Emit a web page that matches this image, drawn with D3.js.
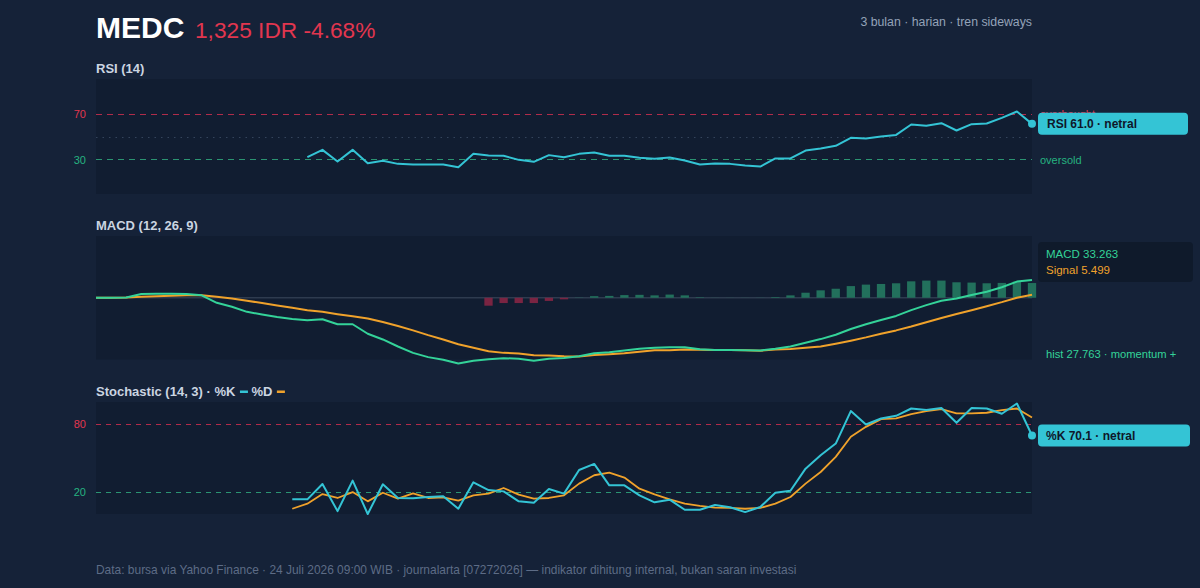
<!DOCTYPE html>
<html>
<head>
<meta charset="utf-8">
<script src="https://cdn.jsdelivr.net/npm/d3@7"></script>
<style>
  html, body { margin: 0; padding: 0; background: #152238; }
  svg { display: block; font-family: "Liberation Sans", Arial, Helvetica, sans-serif; }
</style>
</head>
<body>
<div id="chart"></div>
<script>
// ---- data (63 trading days, index based) ----
const ticker = 'MEDC';
const priceLabel = '1,325 IDR -4.68%';
const subtitle = '3 bulan · harian · tren sideways';
const footer = 'Data: bursa via Yahoo Finance · 24 Juli 2026 09:00 WIB · journalarta [07272026] — indikator dihitung internal, bukan saran investasi';

const rsi = [null, null, null, null, null, null, null, null, null, null, null, null, null, null,
  32.0, 38.4, 28.3, 38.4, 26.8, 28.9, 26.2, 25.7, 25.7, 25.7, 23.3, 34.9, 33.5, 33.2, 29.7, 28.0,
  33.8, 32.0, 34.9, 36.1, 33.2, 33.2, 31.5, 30.6, 31.8, 29.1, 25.7, 26.5, 26.2, 24.8, 23.9, 30.9,
  30.9, 37.8, 39.6, 41.9, 48.9, 48.3, 50.0, 51.4, 60.4, 59.3, 61.6, 55.2, 60.7, 61.3, 66.2, 71.7, 61.0];

const macd = [0, 0, 0.5, 7, 7.5, 7.5, 7, 4.5, -9.5, -17, -26.6, -31.7, -36.2, -40, -42.5, -40.6,
  -50, -50, -67.9, -78.7, -92, -104, -112, -117, -124, -118.7, -116, -114, -115, -118.7, -115,
  -113.5, -110.5, -104.8, -102.9, -99.6, -96.4, -94.5, -93.2, -93.2, -97, -98.4, -98.4, -99, -99.6,
  -96.4, -92, -85, -78, -69.8, -59, -50, -41.9, -34.3, -23.4, -13.9, -5.7, -1.3, 5.1, 11.4, 19.7,
  30.5, 33.263];

const signal = [0, 0, 0.5, 2, 3, 3.6, 4.5, 4.5, 2, -1.3, -5.7, -10, -14.5, -19, -23.4, -26.6,
  -31, -34.9, -39, -45.7, -53.3, -61.5, -70.5, -78.7, -87.6, -94.5, -101, -104, -105, -108.7, -109,
  -110.5, -111, -107.8, -106.4, -104.6, -101.9, -99, -99.2, -97.7, -98, -98.6, -98.6, -99.2, -99.9,
  -97.7, -96.5, -94.5, -92, -86.8, -81, -74.8, -67.9, -61.6, -54.4, -46.3, -38.1, -30.5, -23.5,
  -15.9, -8.3, 0, 5.499];

const hist = [null, null, null, null, null, null, null, null, null, null, null, null, null, null,
  null, null, null, null, null, null, null, null, null, null, null, null,
  -15, -10, -10, -10, -6, -3, 0.5, 3, 3.5, 5, 5.5, 4.5, 6, 4.5, 1, 0.2, 0.2, 0.2, 0.3, 1.3, 4.5,
  9.5, 14, 17, 22, 24.8, 26, 27.3, 31, 32.4, 32.4, 29.2, 28.6, 27.3, 28, 30.5, 27.763];

const stochK = [null, null, null, null, null, null, null, null, null, null, null, null, null,
  13.1, 13.1, 26.8, 2.6, 29.8, 0, 26.5, 14.3, 14, 15.2, 15.8, 4.7, 28.3, 21.4, 20.2, 11.3, 10.1,
  22.3, 18.2, 39.3, 44.7, 25.6, 25.6, 16.7, 10.4, 12.8, 3.8, 3.8, 8, 6, 1.7, 6.2, 19, 20.8, 40.5,
  52.5, 62.9, 91.9, 79.9, 85.3, 87.7, 94.2, 92.8, 94.6, 81.4, 94.6, 94.2, 89.5, 98.7, 70.1];

const stochD = [null, null, null, null, null, null, null, null, null, null, null, null, null,
  4.7, 9.2, 17.8, 14.3, 19.6, 11.3, 19, 13.7, 18.5, 14.3, 14.9, 11.9, 16.7, 18.2, 23.2, 17.3, 13.7,
  14.3, 16.7, 27.1, 34.6, 37, 32.5, 22.6, 17.5, 13.1, 9.2, 7.2, 5.7, 5.4, 4.7, 5.4, 9.2, 15.2, 27.1,
  37.5, 51, 68.9, 77.8, 84.7, 85.3, 89.2, 91.9, 93.7, 89.8, 89.8, 90.4, 92.8, 94.2, 86.2];

const rsiBands = [70, 30];
const stochBands = [80, 20];

// ---- layout ----
const width = 1200, height = 588;
const left = 96, right = 1032;
const colors = {
  cyan: '#34c4d5', green: '#34d399', orange: '#f0a22b', red: '#e2364f',
  redLine: '#b02c4a', greenLine: '#2b9472', panel: '#111d31', title: '#cbd5e1', muted: '#94a3b8'
};

const svg = d3.select('#chart').append('svg')
  .attr('width', width)
  .attr('height', height);

svg.append('rect').attr('width', width).attr('height', height).attr('fill', '#152238');

const x = d3.scaleLinear().domain([0, macd.length - 1]).range([left, right]);
const step = x(1) - x(0);

// header
svg.append('text').attr('x', 96).attr('y', 38)
  .attr('font-size', 30).attr('font-weight', 'bold').attr('fill', '#ffffff').text(ticker);
svg.append('text').attr('x', 195).attr('y', 38)
  .attr('font-size', 22.7).attr('fill', colors.red).text(priceLabel);
svg.append('text').attr('x', right).attr('y', 26).attr('text-anchor', 'end')
  .attr('font-size', 12.3).attr('fill', colors.muted).text(subtitle);

const panelTitle = (txt, top) =>
  svg.append('text').attr('x', 96).attr('y', top - 6.5)
    .attr('font-size', 13).attr('font-weight', 'bold').attr('fill', colors.title).text(txt);

const panelBg = (top, h) =>
  svg.append('rect').attr('x', left).attr('y', top).attr('width', right - left).attr('height', h)
    .attr('fill', colors.panel);

const pathFrom = (arr, y) => d3.line()
  .defined(d => d != null)
  .x((d, i) => x(i))
  .y(d => y(d))(arr);

// dashed band line on a crisp pixel row
const bandLine = (yv, color, dash) =>
  svg.append('line').attr('x1', left).attr('x2', right)
    .attr('y1', Math.round(yv) + 0.5).attr('y2', Math.round(yv) + 0.5)
    .attr('stroke', color).attr('stroke-width', 1).attr('stroke-dasharray', dash);

// ---- RSI ----
const rsiTop = 79, rsiH = 115;
const yRsi = d3.scaleLinear().domain([0, 100]).range([rsiTop + rsiH, rsiTop]);
panelTitle('RSI (14)', rsiTop);
panelBg(rsiTop, rsiH);

bandLine(yRsi(50), '#34445c', '1.5,5');

rsiBands.forEach((v, k) => {
  bandLine(yRsi(v), k === 0 ? colors.redLine : colors.greenLine, '6,5');
  svg.append('text').attr('x', 86).attr('y', yRsi(v) + 4).attr('text-anchor', 'end')
    .attr('font-size', 11).attr('fill', k === 0 ? colors.red : '#25b380').text(v);
});
svg.append('text').attr('x', 1040).attr('y', yRsi(70) + 4).attr('font-size', 11)
  .attr('fill', colors.red).text('overbought');
svg.append('text').attr('x', 1040).attr('y', yRsi(30) + 4).attr('font-size', 11)
  .attr('fill', '#25b380').text('oversold');

svg.append('path').attr('d', pathFrom(rsi, yRsi)).attr('fill', 'none')
  .attr('stroke', colors.cyan).attr('stroke-width', 2).attr('stroke-linejoin', 'round');

const rsiLast = rsi[rsi.length - 1];
svg.append('circle').attr('cx', x(rsi.length - 1)).attr('cy', yRsi(rsiLast)).attr('r', 4)
  .attr('fill', colors.cyan);
svg.append('rect').attr('x', 1038).attr('y', yRsi(rsiLast) - 11).attr('width', 150).attr('height', 22)
  .attr('rx', 4).attr('fill', colors.cyan);
svg.append('text').attr('x', 1047).attr('y', yRsi(rsiLast) + 4.5).attr('font-size', 12)
  .attr('font-weight', 'bold').attr('fill', '#0f172a').text(`RSI ${rsiLast.toFixed(1)} · netral`);

// ---- MACD ----
const macdTop = 236, macdH = 123.5;
const macdMax = 116.5;
const yMacd = d3.scaleLinear().domain([-macdMax, macdMax]).range([macdTop + macdH, macdTop]);
panelTitle('MACD (12, 26, 9)', macdTop);
panelBg(macdTop, macdH);

svg.append('line').attr('x1', left).attr('x2', right).attr('y1', yMacd(0)).attr('y2', yMacd(0))
  .attr('stroke', '#2e3b4f').attr('stroke-width', 1.5);

const barW = step * 0.55;
svg.append('g').selectAll('rect')
  .data(hist.map((v, i) => ({ v, i })).filter(d => d.v != null))
  .join('rect')
  .attr('x', d => x(d.i) - barW / 2)
  .attr('y', d => Math.min(yMacd(d.v), yMacd(0)))
  .attr('width', barW)
  .attr('height', d => Math.abs(yMacd(d.v) - yMacd(0)))
  .attr('fill', d => d.v >= 0 ? '#22705c' : '#7a2442');

svg.append('path').attr('d', pathFrom(signal, yMacd)).attr('fill', 'none')
  .attr('stroke', colors.orange).attr('stroke-width', 2).attr('stroke-linejoin', 'round');
svg.append('path').attr('d', pathFrom(macd, yMacd)).attr('fill', 'none')
  .attr('stroke', colors.green).attr('stroke-width', 2).attr('stroke-linejoin', 'round');

svg.append('rect').attr('x', 1038).attr('y', 242).attr('width', 155).attr('height', 40)
  .attr('rx', 4).attr('fill', '#0f1a2b');
svg.append('text').attr('x', 1046).attr('y', 258).attr('font-size', 11.5).attr('fill', colors.green)
  .text(`MACD ${macd[macd.length - 1].toFixed(3)}`);
svg.append('text').attr('x', 1046).attr('y', 274).attr('font-size', 11.5).attr('fill', colors.orange)
  .text(`Signal ${signal[signal.length - 1].toFixed(3)}`);
svg.append('text').attr('x', 1046).attr('y', 358).attr('font-size', 11.2).attr('fill', colors.green)
  .text(`hist ${hist[hist.length - 1].toFixed(3)} · momentum +`);

// ---- Stochastic ----
const stTop = 402, stH = 112;
const ySt = d3.scaleLinear().domain([0, 100]).range([stTop + stH, stTop]);

const t1 = svg.append('text').attr('x', 96).attr('y', stTop - 6.5).attr('font-size', 13)
  .attr('font-weight', 'bold').attr('fill', colors.title).text('Stochastic (14, 3) · %K');
const w1 = t1.node().getComputedTextLength();
svg.append('rect').attr('x', 96 + w1 + 4.5).attr('y', stTop - 11.5).attr('width', 8).attr('height', 2.5)
  .attr('fill', colors.cyan);
const t2 = svg.append('text').attr('x', 96 + w1 + 16).attr('y', stTop - 6.5).attr('font-size', 13)
  .attr('font-weight', 'bold').attr('fill', colors.title).text('%D');
const w2 = t2.node().getComputedTextLength();
svg.append('rect').attr('x', 96 + w1 + 16 + w2 + 4.5).attr('y', stTop - 11.5).attr('width', 8).attr('height', 2.5)
  .attr('fill', colors.orange);

panelBg(stTop, stH);
stochBands.forEach((v, k) => {
  bandLine(ySt(v), k === 0 ? colors.redLine : colors.greenLine, '5,5');
  svg.append('text').attr('x', 86).attr('y', ySt(v) + 4).attr('text-anchor', 'end')
    .attr('font-size', 11).attr('fill', k === 0 ? colors.red : '#25b380').text(v);
});

svg.append('path').attr('d', pathFrom(stochD, ySt)).attr('fill', 'none')
  .attr('stroke', colors.orange).attr('stroke-width', 1.8).attr('stroke-linejoin', 'round');
svg.append('path').attr('d', pathFrom(stochK, ySt)).attr('fill', 'none')
  .attr('stroke', colors.cyan).attr('stroke-width', 2).attr('stroke-linejoin', 'round');

const kLast = stochK[stochK.length - 1];
svg.append('circle').attr('cx', x(stochK.length - 1)).attr('cy', ySt(kLast)).attr('r', 4)
  .attr('fill', colors.cyan);
svg.append('rect').attr('x', 1038).attr('y', ySt(kLast) - 11).attr('width', 152).attr('height', 22)
  .attr('rx', 4).attr('fill', colors.cyan);
svg.append('text').attr('x', 1046).attr('y', ySt(kLast) + 4.5).attr('font-size', 12)
  .attr('font-weight', 'bold').attr('fill', '#0f172a').text(`%K ${kLast.toFixed(1)} · netral`);

// footer
svg.append('text').attr('x', 96).attr('y', 574).attr('font-size', 11.95)
  .attr('fill', '#5d6c86').text(footer);
</script>
</body>
</html>
